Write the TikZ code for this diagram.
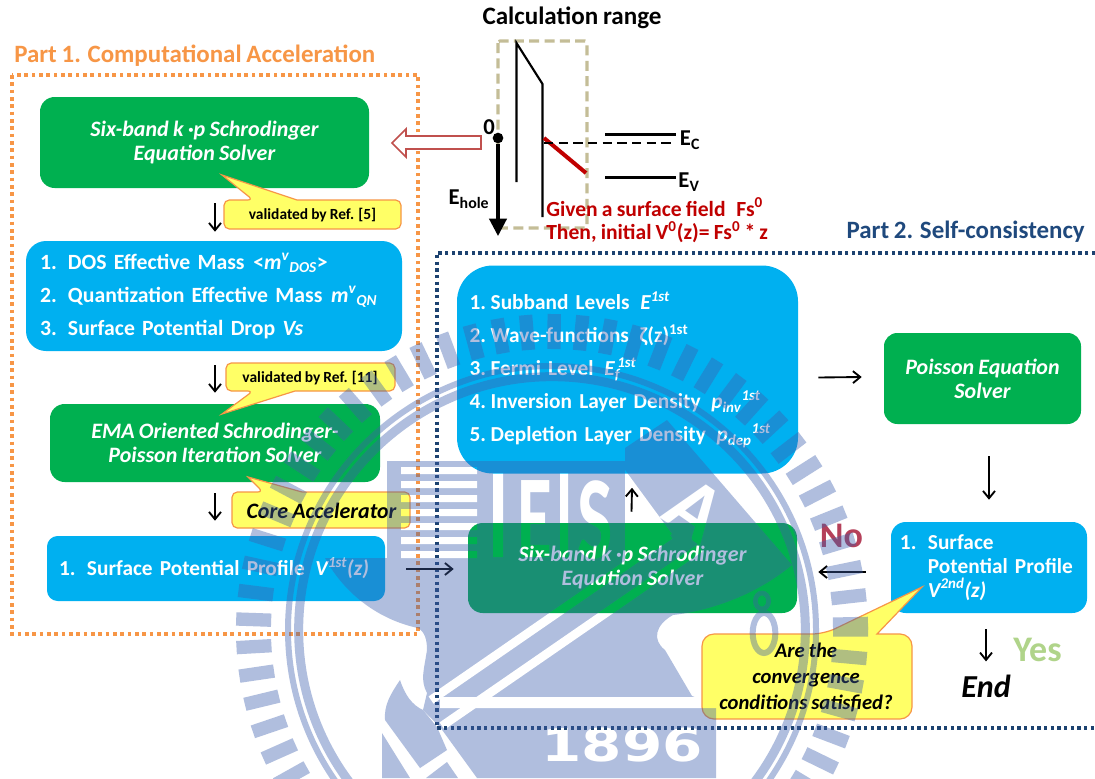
\documentclass[tikz,border=0pt]{standalone}
\usepackage{fontspec}
\setmainfont[WordSpace=0.85]{Carlito}
\newfontfamily\sealfont{DejaVu Sans}
\usepackage{xcolor}
\usetikzlibrary{arrows.meta,positioning}
\definecolor{solvergreen}{HTML}{00B050}
\definecolor{resultblue}{HTML}{00B0F0}
\definecolor{partorange}{HTML}{F79646}
\definecolor{partnavy}{HTML}{1F497D}
\definecolor{noteyellow}{HTML}{FFFF66}
\definecolor{rangetan}{HTML}{C4BD97}
\definecolor{givenred}{HTML}{C00000}
\definecolor{hollowred}{HTML}{C0504D}
\definecolor{sealblue}{HTML}{B0BEDE}
\definecolor{sealdark}{HTML}{25334D}
\definecolor{noink}{HTML}{B5405A}
\definecolor{yesink}{HTML}{B0D48A}

% the seal is inked twice, so it takes its ink and its hole colour
\newcommand{\sealshapes}[2]{%
  \foreach \ang in {0,5.2,...,359} {
    \draw[#1, line width=10pt] (552,630) ++(\ang:281) -- ++(\ang:35);
  }
  \draw[#1, line width=4.5pt] (552,630) circle [radius=198pt];
  \draw[#1, line width=6.75pt] (552,630) circle [radius=190pt];
  \fill[#1] (387,461) -- (625,461) -- (625,448) -- (667,420) -- (792,565)
     .. controls (750,600) and (700,612) .. (673,615) .. controls (655,625) and (652,640) .. (665,650)
     -- (692,696) -- (716,705) -- (716,778) -- (477,778) -- (440,727) -- (423,710) -- (427,693)
     .. controls (420,680) and (424,670) .. (427,650) .. controls (427,640) and (425,632) .. (418,628)
     .. controls (380,620) and (345,595) .. (325,558) -- (387,558) -- cycle;
  \fill[#1] (400,680) .. controls (390,695) and (384,705) .. (385,720) -- (420,768) -- (447,750) -- (437,727)
     -- (423,710) .. controls (412,705) and (405,695) .. (400,680) -- cycle;
  \fill[#1] (382,733) -- (382,778) -- (410,778) -- cycle;
  \fill[#1] (426,778) -- (447,762) -- (458,778) -- cycle;
  \foreach \ystripe in {467,481,...,551} {
    \fill[#2] (401,\ystripe) rectangle (477,\ystripe+7);
  }
  \fill[#2] (493,473) rectangle (503,557);
  \fill[#2] (560,473) rectangle (568,557);
  \fill[#2] (625,470) -- (672,534) -- (625,564) -- cycle;
  \draw[#2, line width=6.5pt] (431,700) -- (670,535);
  \draw[#2, line width=6.5pt] (442,726) -- (700,548);
  \fill[#2] (440,697) rectangle (740,708);
  \node[text=#2, sealletter, xscale=0.6] (sealE#1) at (535,519.5) {E};
  \node[text=#2, sealletter, xscale=0.63] (sealS#1) at (595.5,519.5) {S};
  \node[text=#2, sealletter, rotate=-35, font=\fontsize{62}{62}\selectfont\bfseries] (sealA#1) at (695,510) {A};
  \node[text=#2, inner sep=0pt, xscale=1.28, font=\fontsize{34}{36}\selectfont\bfseries\sealfont] (sealYear#1) at (622,745) {1896};
  \draw[#1, line width=4.5pt] (764,633) ellipse [x radius=8.5pt, y radius=15pt];
  \draw[#1, line width=3.5pt] (762,601) ellipse [x radius=5pt, y radius=6pt];
}

\begin{document}
\begin{tikzpicture}[
    x=0.75pt, y=-0.75pt,
    font=\fontsize{16.5}{18}\selectfont\bfseries,
    solver/.style={fill=solvergreen, text=white, align=center, font=\fontsize{16.5}{18}\selectfont\bfseries\itshape},
    result/.style={fill=resultblue, text=white, align=left},
    calltail/.style={draw=partorange, fill=noteyellow, line width=0.9pt},
    calltext/.style={font=\fontsize{11.6}{13}\selectfont\bfseries, align=center, inner sep=0pt},
    bigcall/.style={font=\fontsize{15.5}{19.5}\selectfont\bfseries\itshape, align=center, inner sep=0pt},
    flow/.style={-{Straight Barb[length=5.5pt,width=9pt]}, line width=1.4pt},
    parttitle/.style={font=\fontsize{18.7}{20}\selectfont\bfseries, inner sep=0pt},
    levelbar/.style={line width=2.6pt},
    bandline/.style={line width=1.6pt},
    rangetext/.style={text=givenred, font=\fontsize{16.2}{18}\selectfont\bfseries, anchor=west, inner sep=0pt},
    levellbl/.style={font=\fontsize{17}{20}\selectfont\bfseries, inner sep=0pt},
    wordart/.style={font=\fontsize{27}{30}\selectfont\bfseries, inner sep=0pt},
    sealletter/.style={font=\fontsize{89}{89}\selectfont\bfseries, inner sep=0pt}
]
\useasboundingbox (0,0) rectangle (1095,778);
\fill[white] (0,0) rectangle (1095,778);

% ---------- Part 1: Computational acceleration ----------
\node[parttitle, text=partorange, anchor=west] (titleA) at (14,56) {Part 1. Computational Acceleration};
\draw[partorange, line width=2.3pt, dash pattern=on 2.7pt off 2.8pt] (12,75) rectangle (418,634);

\node[solver, rounded corners=11pt, minimum width=246.75pt, minimum height=68.25pt] (solverA) at (204.5,142.5)
   {Six-band k {\textperiodcentered}p Schrodinger\\Equation Solver};
\node[result, rounded corners=15pt, minimum width=282pt, minimum height=82.5pt, inner xsep=10.5pt, text width=261pt,
      font=\fontsize{16.3}{24.75}\selectfont\bfseries] (massA) at (214,296)
   {\makebox[21pt][l]{1.}DOS Effective Mass\hspace{0.4em}<\textit{m\textsuperscript{v}\textsubscript{DOS}}>\\
    \makebox[21pt][l]{2.}Quantization Effective Mass\hspace{0.4em}\textit{m\textsuperscript{v}\textsubscript{QN}}\\
    \makebox[21pt][l]{3.}Surface Potential Drop \textit{Vs}};
\node[solver, rounded corners=11pt, minimum width=247.5pt, minimum height=58.5pt] (solverB) at (215,443)
   {EMA Oriented Schrodinger-\\Poisson Iteration Solver};
\node[result, rounded corners=8pt, minimum width=253.5pt, minimum height=48.75pt, inner xsep=5pt, text width=243.5pt,
      font=\fontsize{16}{18}\selectfont\bfseries] (profileA) at (216,568.5)
   {\hspace*{4pt}\makebox[21pt][l]{1.}Surface Potential Profile\hspace{0.5em}\textit{V\textsuperscript{1st}(z)}};

\draw[flow] ([shift={(10.5,15)}]solverA.south) -- ([shift={(1,-9)}]massA.north);
\draw[flow] ([shift={(1,14)}]massA.south) -- ([shift={(0,-11)}]solverB.north);
\draw[flow] ([shift={(0,11)}]solverB.south) -- ([shift={(-1,-15)}]profileA.north);

\draw[calltail] (253,200) -- (222,175) -- (297,200) [rounded corners=4pt] -- (401,200) -- (401,229) -- (224,229) -- (224,200) -- cycle;
\node[calltext] (refA) at (312.5,215) {validated by Ref. [5]};
\draw[calltail] (253,391) -- (222,414) -- (295,391) [rounded corners=4pt] -- (395,391) -- (395,363) -- (226,363) -- (226,391) -- cycle;
\node[calltext] (refB) at (310,378) {validated by Ref. [11]};
\draw[calltail] (263,492) -- (248,477) -- (302,492) [rounded corners=4pt] -- (410,492) -- (410,528) -- (232,528) -- (232,492) -- cycle;
\node[bigcall, font=\fontsize{16.5}{18}\selectfont\bfseries\itshape] (refC) at (321.5,511) {Core Accelerator};

% ---------- Calculation range ----------
\node[font=\fontsize{18.8}{20}\selectfont\bfseries, inner sep=0pt] (rangeT) at (572,18) {Calculation range};
\draw[rangetan, line width=2.3pt, dash pattern=on 7.5pt off 4pt, rounded corners=1.5pt] (498,41) rectangle (587,228);

\coordinate (wallA) at (516.5,43);
\coordinate (wallAb) at (516.5,182);
\coordinate (wallB) at (542.5,84);
\coordinate (wallBb) at (542.5,217);
\coordinate (bendS) at (544,138);
\coordinate (bendE) at (586,173);
\coordinate (fermiS) at (544,143);
\coordinate (fermiE) at (675,143);
\coordinate (ecS) at (605,134.5);
\coordinate (ecE) at (676,134.5);
\coordinate (evS) at (605,177.5);
\coordinate (evE) at (676,177.5);
\coordinate (holeE) at (498,236);
\draw[bandline] (wallAb) -- (wallA) -- (wallB) -- (wallBb);
\draw[givenred, line width=3pt] (bendS) -- (bendE);
\draw[line width=1.1pt, dash pattern=on 7pt off 4pt] (fermiS) -- (fermiE);
\draw[levelbar] (ecS) -- (ecE);
\draw[levelbar] (evS) -- (evE);
\node[levellbl] (ecL) at (690,140) {E\textsubscript{C}};
\node[levellbl] (evL) at (689,182) {E\textsubscript{V}};
\node[circle, fill=black, inner sep=0pt, minimum size=8pt] (zeroDot) at (498,138) {};
\node[levellbl] (zeroL) at (489,127) {0};
\node[levellbl] (holeL) at (469,199) {E\textsubscript{hole}};
\draw[line width=2.3pt, -{Triangle[length=13pt,width=13pt]}] (zeroDot) -- (holeE);
\draw[hollowred, fill=white, line width=1.3pt] (481,136) -- (406,136) -- (406,129) -- (392,143) -- (406,157) -- (406,149) -- (481,149) -- cycle;
\node[rangetext] (givenL) at (546,207) {Given a surface field\hspace{0.5em}Fs\textsuperscript{0}};
\node[rangetext] (thenL) at (546,232) {Then, initial V\textsuperscript{0}(z)= Fs\textsuperscript{0} * z};

% ---------- Part 2: Self-consistency ----------
\node[parttitle, text=partnavy, anchor=east] (titleB) at (1085,232) {Part 2. Self-consistency};
\draw[partnavy!90!black, line width=2.3pt, dash pattern=on 2.4pt off 2.6pt] (1095,253) -- (437,253) -- (437,728) -- (1095,728);

\node[result, rounded corners=27pt, minimum width=255.75pt, minimum height=156pt, inner xsep=9.5pt, text width=236.75pt,
      font=\fontsize{16}{24.75}\selectfont\bfseries] (levelsA) at (627.5,369.5)
   {\makebox[15.75pt][l]{1.}Subband Levels\hspace{0.5em}\textit{E\textsuperscript{1st}}\\
    \makebox[15.75pt][l]{2.}Wave-functions\hspace{0.5em}ζ(z)\textsuperscript{1st}\\
    \makebox[15.75pt][l]{3.}Fermi Level\hspace{0.5em}\textit{E\rlap{\textsubscript{f}}\textsuperscript{\,1st}}\\
    \makebox[15.75pt][l]{4.}Inversion Layer Density\hspace{0.5em}\textit{p\textsubscript{inv}\textsuperscript{1st}}\\
    \makebox[15.75pt][l]{5.}Depletion Layer Density\hspace{0.5em}\textit{p\textsubscript{dep}\textsuperscript{1st}}};
\node[solver, rounded corners=10pt, minimum width=147.75pt, minimum height=68.25pt] (solverD) at (982.5,378.5)
   {Poisson Equation\\Solver};
\node[result, rounded corners=11pt, minimum width=147pt, minimum height=68.25pt, inner xsep=5pt, text width=137pt,
      font=\fontsize{16}{18}\selectfont\bfseries] (profileB) at (989,567.5)
   {\hspace*{1.7pt}\makebox[21pt][l]{1.}Surface\\
    \hspace*{1.7pt}\makebox[21pt][l]{}\mbox{Potential Profile}\\
    \hspace*{1.7pt}\makebox[21pt][l]{}\textit{V\textsuperscript{2nd}(z)}};
\node[solver, rounded corners=11pt, minimum width=246.75pt, minimum height=67.5pt] (solverC) at (632.5,568)
   {Six-band k {\textperiodcentered}p Schrodinger\\Equation Solver};

\draw[flow] ([shift={(-1,-11)}]solverC.north) -- ([shift={(4.5,14)}]levelsA.south);
\draw[flow] ([shift={(20,8)}]levelsA.east) -- ([shift={(-22,-1.5)}]solverD.west);
\draw[flow] ([shift={(6.5,32)}]solverD.south) -- ([shift={(0,-22)}]profileB.north);
\draw[flow] ([shift={(21,0.5)}]profileA.east) -- ([shift={(-14,1)}]solverC.west);
\draw[flow] ([shift={(-25,4.5)}]profileB.west) -- ([shift={(21,4)}]solverC.east);

\draw[calltail] (824,634) -- (922,587) -- (877,634) [rounded corners=9pt] -- (912,634) -- (912,719) -- (702,719) -- (702,634) -- cycle;
\node[bigcall] (checkL) at (806,677) {Are the\\convergence\\conditions satisfied?};

\node[wordart, text=noink] (noL) at (841.5,536) {No};
\node[wordart, text=yesink] (yesL) at (1037.5,650) {Yes};
\node[font=\fontsize{24}{26}\selectfont\bfseries\itshape, inner sep=0pt] (endL) at (986,686) {End};
\draw[flow] ([shift={(-3,16)}]profileB.south) -- ([shift={(0,-13)}]endL.north);

% ---------- seal laid over the whole sheet ----------
\begin{scope}[blend mode=screen]
\begin{scope}[transparency group]
\clip (0,0) rectangle (1095,776);
\sealshapes{sealdark}{black}
\end{scope}
\end{scope}
\begin{scope}[blend mode=multiply]
\begin{scope}[transparency group]
\clip (0,0) rectangle (1095,778);
\sealshapes{sealblue}{white}
\end{scope}
\end{scope}
\end{tikzpicture}
\end{document}
